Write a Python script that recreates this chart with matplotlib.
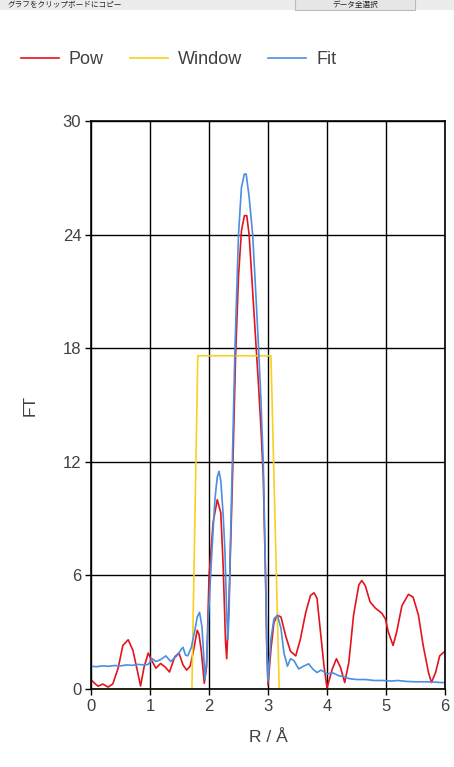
import matplotlib
matplotlib.use("Agg")
from matplotlib import pyplot as plt
from matplotlib.patches import Rectangle

plt.rcParams['font.family'] = ['Liberation Sans', 'Noto Sans CJK JP', 'DejaVu Sans']

# Pow (measured FT)
pow_r = [0, 0.06, 0.12, 0.2, 0.29, 0.37, 0.46, 0.54, 0.63, 0.71, 0.79, 0.84, 0.9, 0.97,
         1.03, 1.1, 1.18, 1.26, 1.33, 1.42, 1.49, 1.56, 1.62, 1.68, 1.73, 1.8, 1.83, 1.87,
         1.92, 1.96, 2.0, 2.07, 2.14, 2.2, 2.24, 2.28, 2.3, 2.34, 2.38, 2.41, 2.45, 2.5,
         2.55, 2.6, 2.64, 2.68, 2.73, 2.8, 2.84, 2.88, 2.92, 2.96, 2.98, 3.0, 3.05, 3.1,
         3.16, 3.22, 3.3, 3.38, 3.47, 3.55, 3.64, 3.72, 3.78, 3.83, 3.89, 3.95, 4.0, 4.09,
         4.16, 4.23, 4.3, 4.37, 4.45, 4.54, 4.59, 4.65, 4.73, 4.82, 4.93, 4.99, 5.04, 5.12,
         5.18, 5.27, 5.38, 5.46, 5.55, 5.63, 5.72, 5.77, 5.84, 5.91, 6.0]
pow_v = [0.5, 0.3, 0.15, 0.26, 0.1, 0.27, 1.1, 2.3, 2.6, 2.05, 0.9, 0.16, 1.16, 1.9,
         1.5, 1.1, 1.35, 1.15, 0.9, 1.7, 1.9, 1.27, 1.0, 1.2, 1.9, 3.1, 2.9, 2.0,
         0.3, 1.2, 5.9, 8.8, 10.0, 9.3, 6.5, 2.5, 1.6, 4.7, 9.1, 12.5, 17.5, 21.8,
         24.2, 25.0, 25.0, 24.0, 21.5, 18.0, 16.0, 13.8, 11.2, 5.6, 2.1, 0.2, 2.1, 3.5,
         3.9, 3.8, 2.8, 2.0, 1.75, 2.65, 4.05, 4.94, 5.08, 4.8, 3.0, 1.2, 0.05, 1.06,
         1.6, 1.13, 0.34, 1.4, 3.9, 5.5, 5.73, 5.45, 4.6, 4.27, 4.0, 3.7, 3.0, 2.3,
         3.0, 4.4, 5.0, 4.85, 3.9, 2.3, 0.87, 0.34, 0.87, 1.75, 2.0]

# Window
win_r = [0, 1.71, 1.81, 3.05, 3.19, 6]
win_v = [0, 0, 17.6, 17.6, 0, 0]

# Fit
fit_r = [0, 0.1, 0.2, 0.3, 0.4, 0.5, 0.6, 0.7, 0.8, 0.9, 0.97, 1.04, 1.1, 1.18, 1.27,
         1.35, 1.42, 1.47, 1.53, 1.56, 1.6, 1.64, 1.7, 1.76, 1.8, 1.84, 1.88, 1.91, 1.93,
         1.96, 1.99, 2.05, 2.1, 2.14, 2.17, 2.2, 2.24, 2.27, 2.3, 2.32, 2.34, 2.36, 2.4,
         2.44, 2.5, 2.55, 2.6, 2.63, 2.68, 2.74, 2.8, 2.84, 2.88, 2.92, 2.96, 2.98, 3.0,
         3.05, 3.1, 3.16, 3.22, 3.27, 3.33, 3.38, 3.44, 3.52, 3.6, 3.69, 3.76, 3.83, 3.9,
         4.0, 4.1, 4.2, 4.3, 4.37, 4.5, 4.65, 4.8, 4.93, 5.1, 5.2, 5.35, 5.5, 5.7, 5.85, 6.0]
fit_v = [1.2, 1.18, 1.22, 1.2, 1.24, 1.22, 1.27, 1.25, 1.3, 1.27, 1.3, 1.6, 1.45, 1.55, 1.75,
         1.45, 1.65, 1.8, 2.1, 2.2, 1.8, 1.75, 2.2, 3.1, 3.8, 4.05, 3.3, 1.8, 0.5,
         1.5, 3.8, 7.3, 10.0, 11.2, 11.5, 11.0, 9.2, 7.3, 4.0, 2.6, 4.0, 7.3, 12.6,
         18.0, 24.0, 26.5, 27.2, 27.2, 26.0, 24.0, 20.5, 18.0, 15.3, 11.9, 5.9, 2.2, 0.4,
         2.65, 3.7, 3.9, 3.2, 1.9, 1.2, 1.6, 1.5, 1.06, 1.2, 1.33, 1.05, 0.87, 1.0,
         0.8, 0.85, 0.7, 0.65, 0.55, 0.5, 0.5, 0.45, 0.45, 0.42, 0.45, 0.4, 0.38, 0.38, 0.36, 0.33]

x_ticks = [0, 1, 2, 3, 4, 5, 6]
y_ticks = [0, 6, 12, 18, 24, 30]

fig = plt.figure(figsize=(4.54, 7.67), dpi=100)

# toolbar strip at the top of the screenshot
fig.patches.append(Rectangle((0, 1 - 10 / 767), 1, 10 / 767, transform=fig.transFigure,
                             facecolor='#ececec', edgecolor='none'))
fig.patches.append(Rectangle((295 / 454, 1 - 10 / 767), 120 / 454, 12 / 767, transform=fig.transFigure,
                             facecolor='#e6e6e6', edgecolor='#bbbbbb', lw=0.8))
fig.text(8 / 454, 1 - 5 / 767, 'グラフをクリップボードにコピー', fontsize=5.5, color='#222222',
         va='center', ha='left', family=['Noto Sans CJK JP'])
fig.text(355 / 454, 1 - 5 / 767, 'データ全選択', fontsize=5.5, color='#222222',
         va='center', ha='center', family=['Noto Sans CJK JP'])

ax = fig.add_axes([91 / 454, 1 - 689 / 767, 354 / 454, 568 / 767])
ax.plot(pow_r, pow_v, color='#e3141e', lw=1.2, label='Pow')
ax.plot(win_r, win_v, color='#f7d11e', lw=1.2, label='Window')
ax.plot(fit_r, fit_v, color='#4a8fe0', lw=1.2, label='Fit')

ax.set_xlim(0, 6)
ax.set_ylim(0, 30)
ax.set_xticks(x_ticks)
ax.set_yticks(y_ticks)
ax.grid(True, color='black', lw=1.0)
ax.set_axisbelow(True)
for s in ax.spines.values():
    s.set_color('black')
    s.set_linewidth(1.2)
ax.tick_params(direction='out', length=4, width=1, colors='black', labelsize=12,
               labelcolor='#404040', pad=3)
ax.set_xlabel('R / Å', fontsize=12.5, color='#404040', labelpad=12)
ax.set_ylabel('FT', fontsize=12.5, color='#404040', labelpad=18)

fig.legend(loc='center left', bbox_to_anchor=(21 / 454, 1 - 60 / 767), ncol=3,
           frameon=False, fontsize=13, handlelength=2.1, handletextpad=0.55,
           columnspacing=1.45, borderpad=0, borderaxespad=0, labelcolor='#404040')

fig.savefig('out.png', dpi=100)
